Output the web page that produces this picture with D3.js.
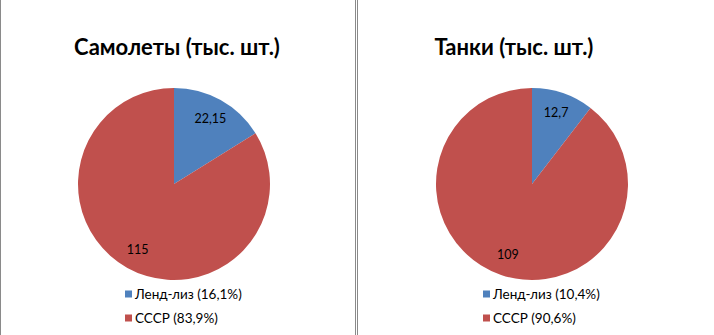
<!DOCTYPE html>
<html lang="ru">
<head>
<meta charset="UTF-8">
<title>Ленд-лиз</title>
<script src="https://cdn.jsdelivr.net/npm/d3@7"></script>
<style>
    body { margin: 0; background: #fff; }
    svg text { font-family: Lato, "Open Sans", sans-serif; fill: #000; }
    .title { font-weight: bold; font-size: 22px; }
    .lbl { font-size: 12.5px; }
    .leg { font-size: 13.5px; }
</style>
</head>
<body>
<div id="chart"></div>
<script>
    // data
    var categories = ["Ленд-лиз", "СССР"];
    var titles = ["Самолеты (тыс. шт.)", "Танки (тыс. шт.)"];
    var planeValues = [22.15, 115];
    var tankValues = [12.7, 109];
    var planeLabels = ["22,15", "115"];
    var tankLabels = ["12,7", "109"];
    var planeLegend = ["Ленд-лиз (16,1%)", "СССР (83,9%)"];
    var tankLegend = ["Ленд-лиз (10,4%)", "СССР (90,6%)"];

    var colors = d3.scaleOrdinal().domain(categories).range(["#4f81bd", "#c0504d"]);

    var width = 714, height = 335;
    var svg = d3.select("#chart").append("svg")
        .attr("width", width)
        .attr("height", height);

    // panel borders
    svg.append("line").attr("x1", 0.5).attr("x2", 0.5).attr("y1", 0).attr("y2", height).attr("stroke", "#8a8a8a");
    svg.append("line").attr("x1", 355.5).attr("x2", 355.5).attr("y1", 0).attr("y2", height).attr("stroke", "#8a8a8a");
    svg.append("line").attr("x1", 357.5).attr("x2", 357.5).attr("y1", 0).attr("y2", height).attr("stroke", "#8a8a8a");

    var panels = [
        {title: titles[0], values: planeValues, labels: planeLabels, legend: planeLegend,
         cx: 174, cy: 184, titleX: 177, legX: 125},
        {title: titles[1], values: tankValues, labels: tankLabels, legend: tankLegend,
         cx: 532, cy: 184, titleX: 514, legX: 483}
    ];

    var radius = 96;
    var pie = d3.pie().sort(null);
    var arc = d3.arc().innerRadius(0).outerRadius(radius);
    var labelArc = d3.arc().innerRadius(radius * 0.78).outerRadius(radius * 0.78);

    panels.forEach(function(p) {
        svg.append("text")
            .attr("class", "title")
            .attr("x", p.titleX)
            .attr("y", 55)
            .attr("text-anchor", "middle")
            .text(p.title);

        var g = svg.append("g")
            .attr("transform", "translate(" + p.cx + "," + p.cy + ")");

        var slices = pie(p.values);

        g.selectAll("path")
            .data(slices)
            .enter().append("path")
            .attr("d", arc)
            .attr("fill", function(d, i) { return colors(categories[i]); });

        g.selectAll("text")
            .data(slices)
            .enter().append("text")
            .attr("class", "lbl")
            .attr("transform", function(d) { return "translate(" + labelArc.centroid(d) + ")"; })
            .attr("text-anchor", "middle")
            .attr("dy", "0.35em")
            .text(function(d, i) { return p.labels[i]; });

        // legend
        var leg = svg.append("g")
            .attr("transform", "translate(" + p.legX + ",294)");

        var item = leg.selectAll("g")
            .data(categories)
            .enter().append("g")
            .attr("transform", function(d, i) { return "translate(0," + (i * 24) + ")"; });

        item.append("rect")
            .attr("x", 0)
            .attr("y", -3.5)
            .attr("width", 7)
            .attr("height", 7)
            .attr("fill", function(d) { return colors(d); });

        item.append("text")
            .attr("class", "leg")
            .attr("x", 10)
            .attr("dy", "0.35em")
            .text(function(d, i) { return p.legend[i]; });
    });
</script>
</body>
</html>
